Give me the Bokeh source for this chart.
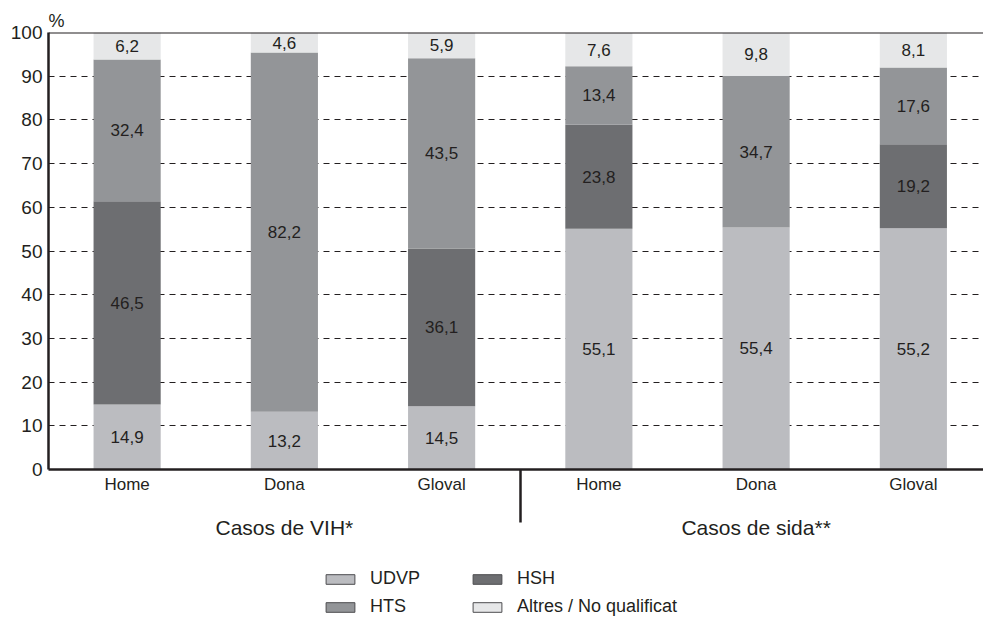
from bokeh.plotting import figure
from bokeh.layouts import column
from bokeh.models import (LinearAxis, FixedTicker, Span, Legend, LegendItem,
                          ColumnDataSource, Range1d)
from bokeh.embed import file_html
from bokeh.resources import INLINE
from bokeh.core.properties import value

# ---------------- data ----------------
categories = ["Home", "Dona", "Gloval", "Home", "Dona", "Gloval"]
groups = ["Casos de VIH*", "Casos de sida**"]
udvp = [14.9, 13.2, 14.5, 55.1, 55.4, 55.2]
hsh = [46.5, 0.0, 36.1, 23.8, 0.0, 19.2]
hts = [32.4, 82.2, 43.5, 13.4, 34.7, 17.6]
altres = [6.2, 4.6, 5.9, 7.6, 9.8, 8.1]
series_names = ["UDVP", "HSH", "HTS", "Altres / No qualificat"]
y_ticks = [0, 10, 20, 30, 40, 50, 60, 70, 80, 90, 100]

# ---------------- styling / layout ----------------
colors = ["#bbbcc0", "#6d6e71", "#939598", "#e6e7e8"]
ink = "#231f20"
font = "Liberation Sans"
x_pos = list(range(len(categories)))
group_label_pos = [1, 4]
divider_pos = 2.5
bar_width = 0.427

p = figure(frame_width=935, frame_height=437, output_backend="svg", toolbar_location=None,
           x_range=Range1d(-0.5, 5.446), y_range=Range1d(0, 100),
           x_axis_type=None, min_border_left=48, min_border_top=32,
           min_border_right=0, min_border_bottom=72, title="%")
p.outline_line_color = None
p.background_fill_color = "white"
p.border_fill_color = "white"
p.title.align = "left"
p.title.offset = 0
p.title.standoff = 4
p.title.text_font = font
p.title.text_font_size = "18px"
p.title.text_font_style = "normal"
p.title.text_color = ink

# y axis
yax = p.yaxis[0]
yax.ticker = FixedTicker(ticks=y_ticks)
yax.major_tick_out = 0
yax.major_tick_in = 0
yax.minor_tick_line_color = None
yax.axis_line_width = 2.5
yax.axis_line_color = ink
yax.major_label_standoff = 6
yax.major_label_text_font = font
yax.major_label_text_font_size = "19px"
yax.major_label_text_color = ink

p.xgrid.visible = False
p.ygrid.ticker = FixedTicker(ticks=y_ticks[1:-1])
p.ygrid.grid_line_color = ink
p.ygrid.grid_line_dash = "6 5"
p.ygrid.grid_line_width = 1

p.add_layout(Span(location=100, dimension="width", line_color=ink, line_width=2))

# category axis (minor tick = group divider)
xax = LinearAxis(ticker=FixedTicker(ticks=x_pos, minor_ticks=[divider_pos]))
xax.major_label_overrides = {i: c for i, c in zip(x_pos, categories)}
xax.major_tick_line_color = None
xax.major_tick_out = 0
xax.major_tick_in = 0
xax.minor_tick_out = 53
xax.minor_tick_in = 0
xax.minor_tick_line_width = 2.5
xax.minor_tick_line_color = ink
xax.axis_line_width = 2.5
xax.axis_line_color = ink
xax.major_label_standoff = 5 - 53
xax.major_label_text_font = font
xax.major_label_text_font_size = "17px"
xax.major_label_text_color = ink
p.add_layout(xax, "below")

# group axis
gax = LinearAxis(ticker=FixedTicker(ticks=group_label_pos, minor_ticks=[]))
gax.major_label_overrides = {v: g for v, g in zip(group_label_pos, groups)}
gax.axis_line_color = None
gax.major_tick_line_color = None
gax.minor_tick_line_color = None
gax.major_tick_out = 0
gax.major_tick_in = 0
gax.major_label_standoff = 19
gax.major_label_text_font = font
gax.major_label_text_font_size = "21px"
gax.major_label_text_color = ink
p.add_layout(gax, "below")

# bars
series = [udvp, hsh, hts, altres]
bottom = [0.0] * len(categories)
lab_x, lab_y, lab_t = [], [], []
for vals, col in zip(series, colors):
    top = [b + v for b, v in zip(bottom, vals)]
    src = ColumnDataSource(dict(x=x_pos, bottom=bottom, top=top))
    p.vbar(x="x", bottom="bottom", top="top", width=bar_width, source=src,
           fill_color=col, line_color=None)
    for i, v in enumerate(vals):
        if v > 0:
            lab_x.append(x_pos[i])
            lab_y.append(bottom[i] + v / 2)
            lab_t.append(f"{v:.1f}".replace(".", ","))
    bottom = top

p.text(x=lab_x, y=lab_y, text=lab_t, text_align="center", text_baseline="middle",
       text_font=value(font), text_font_size="17px", text_color=ink)

# legend (own small figure below the chart); swatch renderers sit off-range
lf = figure(width=983, height=76, output_backend="svg", toolbar_location=None,
            x_range=Range1d(0, 1), y_range=Range1d(0, 1),
            x_axis_type=None, y_axis_type=None,
            min_border_left=0, min_border_right=0, min_border_top=0, min_border_bottom=0)
lf.outline_line_color = None
lf.grid.visible = False
items = []
for name, col in zip(series_names, colors):
    r = lf.vbar(x=[-10], bottom=[-10], top=[-9], width=0.1, fill_color=col,
                line_color="#4d4d4f", line_width=1)
    items.append(LegendItem(label=name, renderers=[r]))
legend = Legend(items=items, ncols=2, orientation="horizontal", location=(274, 0),
                glyph_width=36, glyph_height=12, label_standoff=12, label_width=92,
                spacing=7, padding=0, margin=0, border_line_color=None,
                background_fill_alpha=0, label_text_font=font,
                label_text_font_size="18px", label_text_color=ink)
lf.add_layout(legend, "center")

layout = column(p, lf, spacing=0)
open("out.html", "w").write(file_html(layout, INLINE))
